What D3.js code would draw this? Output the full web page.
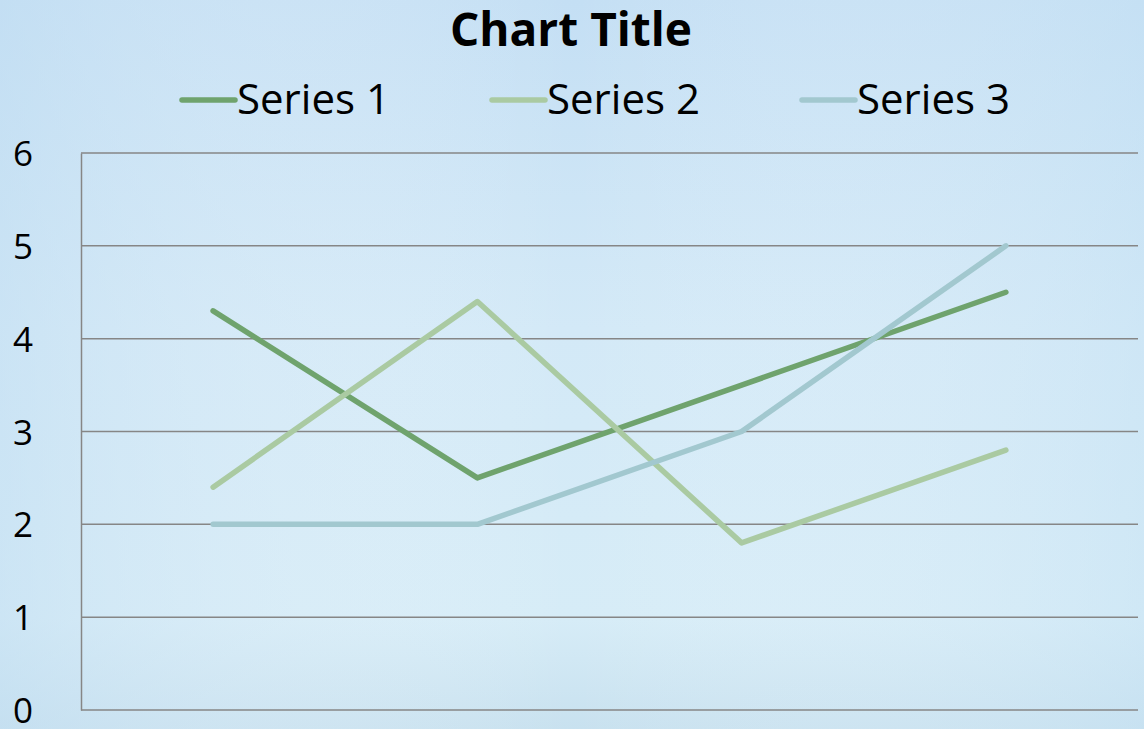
<!DOCTYPE html>
<html lang="en">
<head>
<meta charset="UTF-8">
<title>Chart Title</title>
<style>
  html, body { margin: 0; padding: 0; }
  body { width: 1144px; height: 729px; overflow: hidden; }
  svg text { font-family: "Open Sans", "Noto Sans", sans-serif; fill: #000; }
</style>
</head>
<body>
<svg id="chart" width="1144" height="729"></svg>
<script src="https://cdn.jsdelivr.net/npm/d3@7"></script>
<script>
// chart values
const categories = ["Category 1", "Category 2", "Category 3", "Category 4"];
const seriesNames = ["Series 1", "Series 2", "Series 3"];
const series1 = [4.3, 2.5, 3.5, 4.5];
const series2 = [2.4, 4.4, 1.8, 2.8];
const series3 = [2, 2, 3, 5];
const yTicks = [0, 1, 2, 3, 4, 5, 6];
const colors = ["#6fa36d", "#aacaa2", "#a2c8cf"];

const svg = d3.select("#chart");
const W = 1144, H = 729;
const plot = {left: 81, right: 1138, top: 153, bottom: 710};

// background: pale sky gradient
const defs = svg.append("defs");
const grad = defs.append("linearGradient").attr("id", "bg")
  .attr("x1", 0).attr("y1", 0).attr("x2", 0).attr("y2", 1);
grad.append("stop").attr("offset", "0%").attr("stop-color", "#c4dff4");
grad.append("stop").attr("offset", "45%").attr("stop-color", "#d3e9f7");
grad.append("stop").attr("offset", "85%").attr("stop-color", "#d6ecf7");
grad.append("stop").attr("offset", "100%").attr("stop-color", "#c8e1ef");
const grad2 = defs.append("linearGradient").attr("id", "bg2")
  .attr("x1", 0).attr("y1", 0).attr("x2", 1).attr("y2", 0);
grad2.append("stop").attr("offset", "0%").attr("stop-color", "#c2def2").attr("stop-opacity", 0.5);
grad2.append("stop").attr("offset", "50%").attr("stop-color", "#ffffff").attr("stop-opacity", 0.0);
grad2.append("stop").attr("offset", "100%").attr("stop-color", "#c6e2f4").attr("stop-opacity", 0.4);
svg.append("rect").attr("width", W).attr("height", H).attr("fill", "url(#bg)");
svg.append("rect").attr("width", W).attr("height", H).attr("fill", "url(#bg2)");

// scales
const x = d3.scaleBand().domain(categories).range([plot.left, plot.right]);
const y = d3.scaleLinear().domain([0, 6]).range([plot.bottom, plot.top]);

// gridlines
svg.append("g")
  .selectAll("line")
  .data(yTicks)
  .join("line")
  .attr("x1", plot.left).attr("x2", plot.right)
  .attr("y1", d => y(d)).attr("y2", d => y(d))
  .attr("stroke", "#868686").attr("stroke-width", 1.5);

// y axis
const yAxis = d3.axisLeft(y).tickValues(yTicks).tickFormat(d3.format("d")).tickSize(0);
const gy = svg.append("g")
  .attr("transform", `translate(${plot.left},0)`)
  .call(yAxis);
gy.select(".domain").attr("stroke", "#868686").attr("stroke-width", 1.5);
gy.selectAll("text")
  .style("font-size", "35px")
  .attr("text-anchor", "start")
  .attr("x", 13 - plot.left)
  .attr("dy", "0.36em");

// lines
const data = [series1, series2, series3];
const line = d3.line()
  .x((d, i) => x(categories[i]) + x.bandwidth() / 2)
  .y(d => y(d));
svg.append("g")
  .selectAll("path")
  .data(data)
  .join("path")
  .attr("d", line)
  .attr("fill", "none")
  .attr("stroke", (d, i) => colors[i])
  .attr("stroke-width", 5.5)
  .attr("stroke-linecap", "round")
  .attr("stroke-linejoin", "round");

// title
svg.append("text")
  .attr("x", 571).attr("y", 46)
  .attr("text-anchor", "middle")
  .style("font-size", "46px")
  .style("font-weight", "bold")
  .text("Chart Title");

// legend
const legendX = [182, 492, 802];
const lg = svg.append("g")
  .selectAll("g")
  .data(seriesNames)
  .join("g")
  .attr("transform", (d, i) => `translate(${legendX[i]},100)`);
lg.append("line")
  .attr("x1", 0).attr("x2", 53).attr("y1", 0).attr("y2", 0)
  .attr("stroke", (d, i) => colors[i])
  .attr("stroke-width", 5.5)
  .attr("stroke-linecap", "round");
lg.append("text")
  .attr("x", 55).attr("y", 14)
  .style("font-size", "42px")
  .text(d => d);
</script>
</body>
</html>
